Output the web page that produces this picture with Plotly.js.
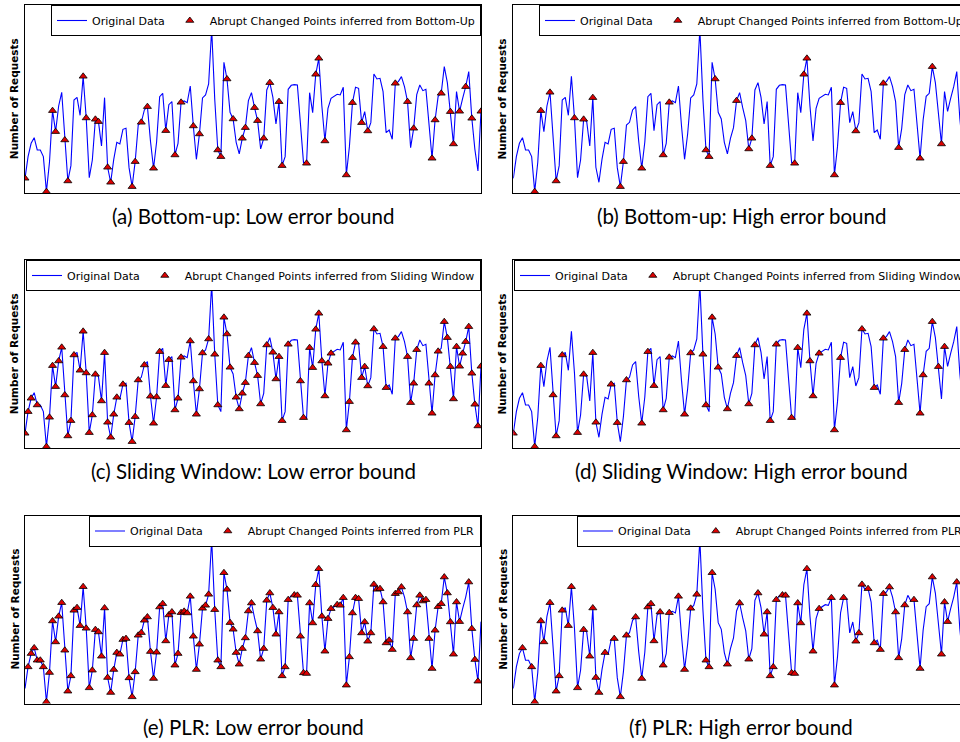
<!DOCTYPE html>
<html>
<head>
<meta charset="utf-8">
<script src="https://cdn.plot.ly/plotly-3.0.1.min.js"></script>
<style>
html, body { margin: 0; padding: 0; background: #fff; overflow: hidden; width: 960px; height: 742px; }
#chart { width: 980px; height: 742px; }
</style>
</head>
<body>
<div id="chart"></div>
<script>
// Original request series (arbitrary units)
const requests = [
  45,110,150,167,130,130,110,5,93,248,
  185,262,303,160,37,83,280,288,234,351,
  226,47,100,222,215,142,287,78,33,102,
  153,148,192,195,77,20,95,205,213,250,
  260,156,75,154,290,300,188,266,275,115,
  150,273,277,272,322,202,102,178,286,295,
  328,493,282,130,110,393,343,243,223,153,
  118,165,197,278,302,257,218,133,165,310,
  332,288,208,275,83,110,312,324,326,325,
  202,92,90,302,242,357,405,262,157,255,
  285,290,297,295,318,55,140,272,318,315,
  212,245,187,212,358,343,345,305,182,190,
  162,330,335,350,320,275,137,195,296,325,
  308,312,195,105,220,291,300,380,332,245,
  148,305,246,285,320,365,225,132,67,246
];

// Indices of abrupt changed points per method
const bottomUpLow = [0,7,9,10,13,14,19,20,23,24,27,28,35,36,38,40,42,46,49,51,55,57,61,63,64,66,68,71,72,75,76,78,80,83,84,92,95,96,98,105,107,110,112,121,125,127,133,134,136,139,140,142,144,146,149];
const bottomUpHigh = [7,9,12,14,20,23,26,35,36,42,49,51,61,63,64,66,73,77,78,84,92,95,96,105,107,112,121,126,133,137,140];
const slidingLow = [0,1,2,4,7,8,9,10,11,12,13,14,15,16,18,19,20,21,22,23,25,26,27,28,29,30,32,34,35,36,37,39,41,42,43,44,46,47,49,50,51,54,55,56,57,58,60,61,62,63,65,66,67,69,70,71,72,73,75,76,77,79,81,82,83,84,86,90,91,93,94,95,96,97,98,99,100,105,106,107,108,110,111,112,114,117,118,121,125,126,127,128,132,133,134,135,137,138,139,140,141,142,143,144,145,146,147,148,149];
const slidingHigh = [0,7,9,13,14,16,21,23,26,27,32,34,37,42,44,46,49,51,56,58,61,62,63,65,67,70,73,77,79,84,86,91,93,96,97,98,100,105,107,114,118,121,126,128,133,134,137,139,141];
const plrLow = [1,2,3,4,5,6,7,8,9,10,11,12,13,14,15,16,17,18,19,20,21,22,23,24,25,26,27,28,29,30,31,32,33,34,35,36,37,38,39,40,41,42,43,44,45,46,47,48,49,50,51,52,53,54,55,56,57,58,59,60,61,62,63,64,65,66,67,68,69,70,71,72,73,74,76,77,78,79,80,81,82,83,84,85,86,88,89,90,91,92,93,94,95,96,97,98,99,100,102,103,104,105,106,107,108,109,110,111,112,113,114,115,116,117,118,119,120,121,122,123,125,126,127,128,129,130,131,132,133,134,135,136,137,138,139,140,141,142,145,146,147,148];
const plrHigh = [3,6,7,9,10,12,14,15,16,18,19,21,23,25,26,27,28,30,33,35,37,40,42,44,45,46,48,49,51,54,56,58,60,61,63,64,65,70,74,77,80,82,83,84,85,86,88,89,91,92,93,94,96,98,100,104,105,108,112,113,114,116,118,120,121,123,125,126,128,131,133,137,140,141,142,145];

const methods = ["Bottom-Up", "Bottom-Up", "Sliding Window", "Sliding Window", "PLR", "PLR"];
const captions = [
  "(a) Bottom-up: Low error bound",
  "(b) Bottom-up: High error bound",
  "(c) Sliding Window: Low error bound",
  "(d) Sliding Window: High error bound",
  "(e) PLR: Low error bound",
  "(f) PLR: High error bound"
];
const markerSets = [bottomUpLow, bottomUpHigh, slidingLow, slidingHigh, plrLow, plrHigh];

const W = 980, H = 742;
const colX = [[25, 481], [513.3, 969]];
const rowY = [[5, 193.3], [260, 448.3], [515.5, 703.5]];

const idx = requests.map((_, i) => i);
const traces = [];
const layout = {
  width: W, height: H,
  margin: {l: 0, r: 0, t: 0, b: 0},
  paper_bgcolor: "#fff", plot_bgcolor: "#fff",
  showlegend: true,
  annotations: [],
  font: {family: "DejaVu Sans", color: "#000"}
};

for (let p = 0; p < 6; p++) {
  const r = Math.floor(p / 2), c = p % 2;
  const n = p + 1;
  const xa = "x" + (n === 1 ? "" : n), ya = "y" + (n === 1 ? "" : n);
  const lg = "legend" + (n === 1 ? "" : n);
  const x0 = colX[c][0] / W, x1 = colX[c][1] / W;
  const y0 = 1 - rowY[r][1] / H, y1 = 1 - rowY[r][0] / H;
  const axBase = {
    showticklabels: false, ticks: "", showgrid: false, zeroline: false,
    showline: true, mirror: true, linecolor: "#000", linewidth: 1, fixedrange: true
  };
  layout["xaxis" + (n === 1 ? "" : n)] = Object.assign({}, axBase, {domain: [x0, x1], range: [0, requests.length - 1], anchor: ya});
  layout["yaxis" + (n === 1 ? "" : n)] = Object.assign({}, axBase, {domain: [y0, y1], range: [0, 565], anchor: xa});

  traces.push({
    type: "scatter", mode: "lines", x: idx, y: requests, xaxis: xa, yaxis: ya,
    name: "Original Data", legend: lg,
    line: {color: "#0000ff", width: 1.1}
  });
  const m = markerSets[p];
  traces.push({
    type: "scatter", mode: "markers", x: m, y: m.map(i => requests[i]), xaxis: xa, yaxis: ya,
    name: "Abrupt Changed Points inferred from " + methods[p], legend: lg,
    marker: {symbol: "triangle-up", size: 7, color: "#dd0000", line: {color: "#000", width: 0.8}}
  });

  layout[lg] = {
    orientation: "h", x: x1, xanchor: "right", y: y1, yanchor: "top",
    bgcolor: "#fff", bordercolor: "#000", borderwidth: 1,
    font: {family: "DejaVu Sans", size: 11, color: "#000"},
    itemclick: false, itemdoubleclick: false
  };

  layout.annotations.push({
    xref: "paper", yref: "paper", x: (colX[c][0] - 11) / W, y: (y0 + y1) / 2,
    xanchor: "center", yanchor: "middle", textangle: -90, showarrow: false,
    text: "<b>Number of Requests</b>",
    font: {family: "DejaVu Sans", size: 10.5, color: "#000"}
  });
  layout.annotations.push({
    xref: "paper", yref: "paper", x: (colX[c][0] + colX[c][1]) / 2 / W, y: 1 - (rowY[r][1] + 23) / H,
    xanchor: "center", yanchor: "middle", showarrow: false,
    text: captions[p],
    font: {family: "Lato", size: 20.5, color: "#000"}
  });
}

Plotly.newPlot("chart", traces, layout, {staticPlot: true, displayModeBar: false});
</script>
</body>
</html>
